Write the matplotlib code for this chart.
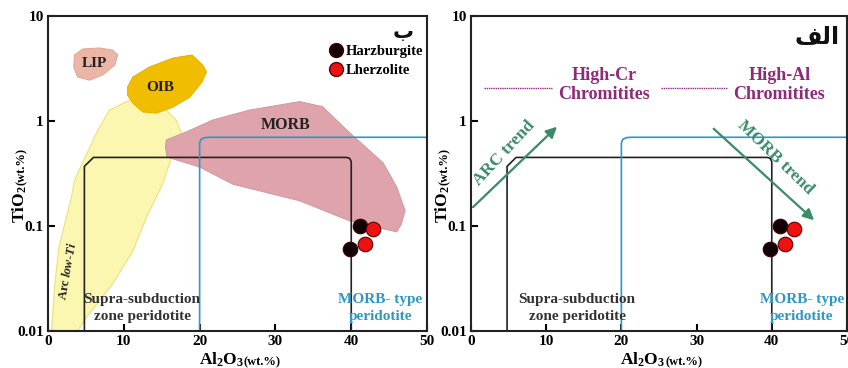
import matplotlib.pyplot as plt
from matplotlib.lines import Line2D

plt.rcParams['font.family'] = ['Liberation Serif', 'DejaVu Sans']
plt.rcParams['font.weight'] = 'bold'
plt.rcParams['mathtext.fontset'] = 'custom'
plt.rcParams['mathtext.rm'] = 'Liberation Serif:bold'
plt.rcParams['mathtext.it'] = 'Liberation Serif:bold:italic'
plt.rcParams['mathtext.default'] = 'rm'

# samples
harz_al = [41.1, 39.8]
harz_ti = [0.100, 0.060]
lherz_al = [42.9, 41.8]
lherz_ti = [0.093, 0.068]

# discrimination fields (Al2O3, TiO2)
arc_al = [0.45, 0.9, 1.45, 2.2, 3.1, 3.5, 6.4, 8.1, 10.8, 15.6, 16.9, 17.8, 16.5, 15.1, 13.0, 11.2, 8.5, 5.1, 3.9]
arc_ti = [0.01, 0.028, 0.063, 0.104, 0.189, 0.274, 0.77, 1.27, 1.58, 1.27, 1.02, 0.70, 0.50, 0.25, 0.122, 0.058, 0.028, 0.0136, 0.01]
oib_al = [10.5, 11.2, 13.4, 16.5, 19.0, 20.4, 20.9, 20.3, 18.7, 16.5, 14.3, 12.5, 11.2, 10.5]
oib_ti = [2.11, 2.62, 3.27, 3.98, 4.25, 3.41, 2.93, 2.35, 1.69, 1.36, 1.19, 1.22, 1.48, 1.77]
lip_al = [3.5, 4.6, 6.8, 8.5, 9.2, 8.8, 7.2, 5.5, 3.9, 3.4]
lip_ti = [4.25, 4.85, 4.96, 4.74, 4.25, 3.41, 2.74, 2.45, 2.63, 3.27]
morb_al = [15.5, 15.6, 18.3, 21.7, 26.6, 33.2, 36.2, 39.8, 44.2, 46.0, 47.1, 46.6, 46.0, 39.8, 33.2, 24.4, 20.0, 15.7]
morb_ti = [0.569, 0.659, 0.79, 1.02, 1.27, 1.53, 1.37, 0.77, 0.40, 0.235, 0.14, 0.104, 0.088, 0.112, 0.174, 0.25, 0.365, 0.454]

# peridotite boxes
ssz_al = [4.8, 4.8, 6.0, 39.4, 39.8, 40.0, 40.0]
ssz_ti = [0.01, 0.37, 0.45, 0.45, 0.44, 0.41, 0.01]
morbp_al = [20.0, 20.0, 20.2, 20.7, 21.3, 52.0]
morbp_ti = [0.01, 0.62, 0.67, 0.695, 0.70, 0.70]

x_ticks = [0, 10, 20, 30, 40, 50]
y_ticks = [0.01, 0.1, 1, 10]
y_labels = ['0.01', '0.1', '1', '10']

BLUE = '#2f97c4'
GREEN = '#3b8a68'
PURPLE = '#8e2a78'

fig = plt.figure(figsize=(8.48, 3.68), dpi=100)
axL = fig.add_axes([0.0566, 0.1005, 0.447, 0.856])
axR = fig.add_axes([0.5554, 0.1005, 0.4434, 0.856])


def base(ax, label_x, label_y):
    ax.set_yscale('log')
    ax.set_xlim(0, 50)
    ax.set_ylim(0.01, 10)
    ax.set_xticks(x_ticks)
    ax.set_xticklabels([str(t) for t in x_ticks])
    ax.set_yticks(y_ticks)
    ax.set_yticklabels(y_labels)
    ax.minorticks_off()
    ax.tick_params(direction='in', length=5, width=1.5, labelsize=11, pad=3)
    for s in ax.spines.values():
        s.set_linewidth(1.5)
        s.set_color('#222222')
    # peridotite boxes
    ax.plot(ssz_al, ssz_ti, color='#222222', lw=1.2, clip_on=True)
    ax.plot(morbp_al, morbp_ti, color=BLUE, lw=1.2, clip_on=True)
    ax.text(label_x, 0.0200, 'Supra-subduction', ha='center', va='center', fontsize=11, color='#333333')
    ax.text(label_x, 0.0136, 'zone peridotite', ha='center', va='center', fontsize=11, color='#333333')
    ax.text(label_y, 0.0200, 'MORB- type', ha='center', va='center', fontsize=11, color=BLUE)
    ax.text(label_y, 0.0136, 'peridotite', ha='center', va='center', fontsize=11, color=BLUE)
    # samples
    ax.scatter(harz_al, harz_ti, s=110, color='#120006', edgecolor='#3a0000', lw=0.8, zorder=5)
    ax.scatter(lherz_al, lherz_ti, s=110, color='#ee1111', edgecolor='#5a0000', lw=0.8, zorder=5)
    # axis labels
    ax.text(0.517, -0.108, 'Al$_2$O$_3$', transform=ax.transAxes, ha='right', va='baseline', fontsize=12.5)
    ax.text(0.517, -0.108, '(wt.%)', transform=ax.transAxes, ha='left', va='baseline', fontsize=9)
    ax.text(-0.062, 0.463, 'TiO$_2$', transform=ax.transAxes, ha='right', va='baseline',
            rotation=90, rotation_mode='anchor', fontsize=12.5)
    ax.text(-0.062, 0.463, '(wt.%)', transform=ax.transAxes, ha='left', va='baseline',
            rotation=90, rotation_mode='anchor', fontsize=9)


# left panel
base(axL, 12.4, 43.8)
axL.fill(arc_al, arc_ti, facecolor='#fbf7b0', edgecolor='#ece27a', lw=0.8, zorder=1)
axL.fill(morb_al, morb_ti, facecolor='#dfa3ab', edgecolor='#d49aa3', lw=0.8, zorder=1)
axL.fill(oib_al, oib_ti, facecolor='#f1bd00', edgecolor='#e8b300', lw=0.8, zorder=2)
axL.fill(lip_al, lip_ti, facecolor='#ebb6a6', edgecolor='#e2a998', lw=0.8, zorder=2)
axL.text(6.1, 3.55, 'LIP', ha='center', va='center', fontsize=11, color='#222222')
axL.text(14.8, 2.1, 'OIB', ha='center', va='center', fontsize=11, color='#222222')
axL.text(31.4, 0.92, 'MORB', ha='center', va='center', fontsize=11.5, color='#222222')
axL.text(2.6, 0.037, 'Arc $\\mathit{low}$-$\\mathit{Ti}$', ha='center', va='center', rotation=80,
         fontsize=9, color='#222222')
axL.text(46.8, 7.0, '\u0628', ha='center', va='center', fontsize=15, family=['DejaVu Sans'], color='#111111')
handles = [Line2D([], [], ls='none', marker='o', ms=10, mfc='#120006', mec='#3a0000'),
           Line2D([], [], ls='none', marker='o', ms=10, mfc='#ee1111', mec='#5a0000')]
axL.legend(handles, ['Harzburgite', 'Lherzolite'], loc='upper right', bbox_to_anchor=(1.012, 0.935),
           frameon=False, handletextpad=0.15, labelspacing=0.35, fontsize=10.5, borderaxespad=0.2,
           handlelength=1.0)

# right panel
base(axR, 14.1, 44.0)
axR.text(17.7, 2.2, 'High-Cr\nChromitites', ha='center', va='center', fontsize=13,
         color=PURPLE, linespacing=1.2)
axR.text(41.0, 2.2, 'High-Al\nChromitites', ha='center', va='center', fontsize=13,
         color=PURPLE, linespacing=1.2)
axR.plot([1.7, 10.8], [2.05, 2.05], ls=(0, (1, 0.6)), color=PURPLE, lw=1.0)
axR.plot([25.3, 34.0], [2.05, 2.05], ls=(0, (1, 0.6)), color=PURPLE, lw=1.0)
axR.annotate('', xy=(11.7, 0.92), xytext=(0.0, 0.145),
             arrowprops=dict(arrowstyle='-|>', color=GREEN, lw=1.6, mutation_scale=16))
axR.annotate('', xy=(45.9, 0.109), xytext=(32.0, 0.88),
             arrowprops=dict(arrowstyle='-|>', color=GREEN, lw=1.6, mutation_scale=16))
axR.text(4.4, 0.50, 'ARC trend', ha='center', va='center', rotation=47, fontsize=12.5, color=GREEN)
axR.text(40.5, 0.45, 'MORB trend', ha='center', va='center', rotation=-44, fontsize=12.5, color=GREEN)
axR.text(46.0, 6.3, '\ufed2\ufedf\ufe8d', ha='center', va='center', fontsize=17,
         family=['DejaVu Sans'], color='#111111')

fig.savefig('out.png', dpi=100)
